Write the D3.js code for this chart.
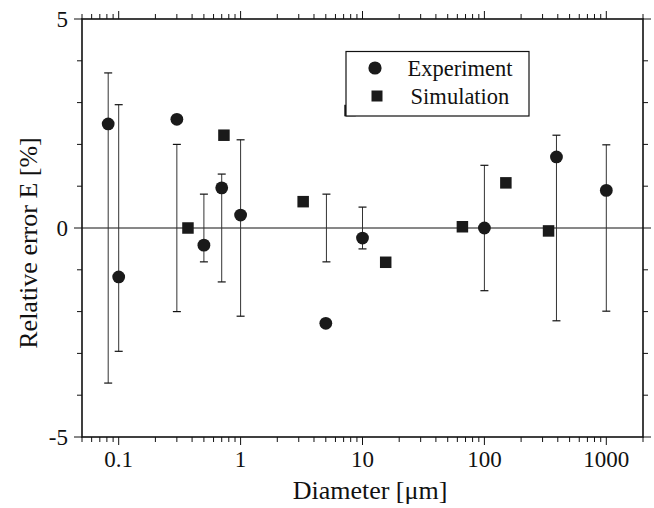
<!DOCTYPE html>
<html>
<head>
<meta charset="utf-8">
<script src="https://cdn.jsdelivr.net/npm/d3@7/dist/d3.min.js"></script>
<style>
  html, body { margin: 0; padding: 0; background: #fff; }
  svg { display: block; }
</style>
</head>
<body>
<svg id="chart" width="654" height="508"></svg>
<script>
// Experimental relative error with measurement uncertainty (bars span ±U around zero)
const expDiameter = [0.082, 0.1, 0.3, 0.5, 0.7, 1, 5, 10, 100, 390, 1000];
const expError    = [2.49, -1.17, 2.60, -0.41, 0.96, 0.31, -2.28, -0.24, 0.0, 1.70, 0.90];
const expUncert   = [3.71, 2.95, 2.0, 0.81, 1.29, 2.11, 0.81, 0.50, 1.50, 2.22, 1.99];
const barDiameter = [0.082, 0.1, 0.3, 0.5, 0.7, 1, 5.06, 10, 100, 390, 1000];

// Simulated relative error
const simDiameter = [0.37, 0.73, 3.26, 7.9, 15.5, 66, 150, 336];
const simError    = [0.0, 2.22, 0.63, 2.81, -0.82, 0.03, 1.08, -0.07];

const xTickValues = [0.1, 1, 10, 100, 1000];
const xTickLabels = ["0.1", "1", "10", "100", "1000"];
const yTickValues = [-5, 0, 5];
const yTickLabels = ["-5", "0", "5"];
const legendLabels = ["Experiment", "Simulation"];

const FONT = "'Liberation Serif'";
const INK = "#111";

const svg = d3.select("#chart");
const m = { left: 82, right: 643, top: 19, bottom: 437 };

const x = d3.scaleLog().domain([0.05, 2000]).range([m.left, m.right]);
const y = d3.scaleLinear().domain([-5, 5]).range([m.bottom, m.top]);

// log minor ticks inside the domain
const minorX = [];
for (let e = -2; e <= 3; e++) {
  for (let k = 1; k <= 9; k++) {
    const v = k * Math.pow(10, e);
    if (v >= 0.05 && v <= 2000) minorX.push(+v.toPrecision(3));
  }
}
const isDecade = v => Math.abs(Math.log10(v) - Math.round(Math.log10(v))) < 1e-9;
const minorY = d3.range(-5, 6, 1);

const g = svg.append("g");

// zero reference line
g.append("line")
  .attr("x1", m.left).attr("x2", m.right)
  .attr("y1", y(0)).attr("y2", y(0))
  .attr("stroke", INK).attr("stroke-width", 1);

// bottom & top ticks
function xTicks(yPos, dir) {
  g.append("g").selectAll("line").data(minorX).join("line")
    .attr("x1", d => x(d)).attr("x2", d => x(d))
    .attr("y1", yPos)
    .attr("y2", d => yPos + dir * (isDecade(d) ? 8 : 5))
    .attr("stroke", INK).attr("stroke-width", 1);
}
xTicks(m.bottom, 1);
xTicks(m.top, -1);

// left & right ticks
function yTicks(xPos, dir) {
  g.append("g").selectAll("line").data(minorY).join("line")
    .attr("y1", d => y(d)).attr("y2", d => y(d))
    .attr("x1", xPos)
    .attr("x2", d => xPos + dir * (d % 5 === 0 ? 8 : 5))
    .attr("stroke", INK).attr("stroke-width", 1);
}
yTicks(m.left, -1);
yTicks(m.right, 1);

// frame
g.append("rect")
  .attr("x", m.left).attr("y", m.top)
  .attr("width", m.right - m.left).attr("height", m.bottom - m.top)
  .attr("fill", "none").attr("stroke", INK).attr("stroke-width", 1.6);

// tick labels
g.append("g").selectAll("text").data(xTickValues).join("text")
  .attr("x", d => x(d)).attr("y", 467)
  .attr("text-anchor", "middle").attr("font-size", 23).attr("fill", INK)
  .style("font-family", FONT)
  .text((d, i) => xTickLabels[i]);

g.append("g").selectAll("text").data(yTickValues).join("text")
  .attr("x", 68).attr("y", d => y(d) + 8)
  .attr("text-anchor", "end").attr("font-size", 23).attr("fill", INK)
  .style("font-family", FONT)
  .text((d, i) => yTickLabels[i]);

// axis titles
svg.append("text")
  .attr("x", 370).attr("y", 499)
  .attr("text-anchor", "middle").attr("font-size", 26).attr("fill", INK)
  .style("font-family", FONT)
  .text("Diameter [\u03bcm]");

svg.append("text")
  .attr("transform", "translate(37,243) rotate(-90)")
  .attr("text-anchor", "middle").attr("font-size", 26).attr("fill", INK)
  .style("font-family", FONT)
  .text("Relative error E [%]");

// error bars
const cap = 4;
const bars = g.append("g");
expUncert.forEach((u, i) => {
  const cx = x(barDiameter[i]);
  bars.append("line")
    .attr("x1", cx).attr("x2", cx).attr("y1", y(u)).attr("y2", y(-u))
    .attr("stroke", "#333").attr("stroke-width", 1);
  [u, -u].forEach(v => {
    bars.append("line")
      .attr("x1", cx - cap).attr("x2", cx + cap).attr("y1", y(v)).attr("y2", y(v))
      .attr("stroke", INK).attr("stroke-width", 1.2);
  });
});

// simulation squares
const sq = 11.5;
g.append("g").selectAll("rect").data(simDiameter).join("rect")
  .attr("x", d => x(d) - sq / 2)
  .attr("y", (d, i) => y(simError[i]) - sq / 2)
  .attr("width", sq).attr("height", sq)
  .attr("fill", "#1a1a1a");

// experiment circles
g.append("g").selectAll("circle").data(expDiameter).join("circle")
  .attr("cx", d => x(d))
  .attr("cy", (d, i) => y(expError[i]))
  .attr("r", 6.4)
  .attr("fill", "#1a1a1a");

// legend
const lg = svg.append("g");
lg.append("rect")
  .attr("x", 346).attr("y", 51.5).attr("width", 183).attr("height", 64.5)
  .attr("fill", "#fff").attr("stroke", INK).attr("stroke-width", 1.2);
lg.append("circle").attr("cx", 375).attr("cy", 68).attr("r", 6.6).attr("fill", "#1a1a1a");
lg.append("rect").attr("x", 377 - 5.5).attr("y", 96 - 5.5).attr("width", 11).attr("height", 11).attr("fill", "#1a1a1a");
lg.selectAll("text.lab").data(legendLabels).join("text")
  .attr("class", "lab")
  .attr("x", 460).attr("y", (d, i) => 76 + i * 28)
  .attr("text-anchor", "middle").attr("font-size", 22.5).attr("fill", INK)
  .style("font-family", FONT)
  .text(d => d);
</script>
</body>
</html>
